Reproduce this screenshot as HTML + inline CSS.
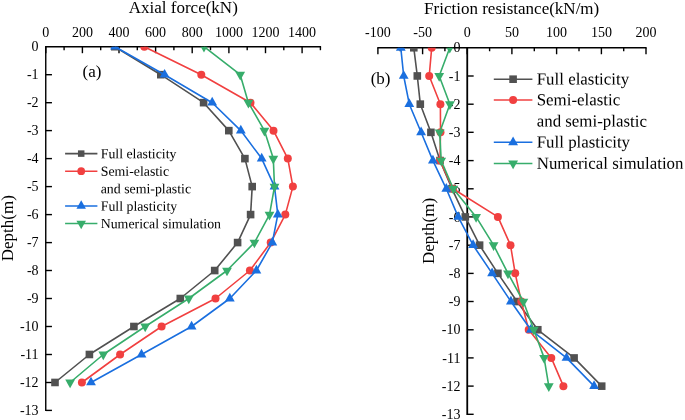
<!DOCTYPE html>
<html lang="en"><head><meta charset="utf-8"><title>Axial force and friction resistance</title>
<style>html,body{margin:0;padding:0;background:#fff}svg{display:block;will-change:transform}</style></head>
<body>
<svg width="685" height="420" viewBox="0 0 685 420" font-family="'Liberation Serif',serif" fill="#000">
<rect width="685" height="420" fill="#fff"/>
<defs>
<clipPath id="cl"><rect x="45.75" y="46.7" width="276.25" height="363.74"/></clipPath>
<clipPath id="cr"><rect x="370" y="47.75" width="290" height="366.59999999999997"/></clipPath>
</defs>
<g stroke="#000" stroke-width="1.4" fill="none" stroke-linecap="butt">
<path d="M45.75,411.1 V46.7 H321.1"/>
<line x1="45.8" y1="46.7" x2="45.8" y2="53.2"/>
<line x1="64.1" y1="46.7" x2="64.1" y2="50.2"/>
<line x1="82.4" y1="46.7" x2="82.4" y2="53.2"/>
<line x1="100.7" y1="46.7" x2="100.7" y2="50.2"/>
<line x1="119.0" y1="46.7" x2="119.0" y2="53.2"/>
<line x1="137.3" y1="46.7" x2="137.3" y2="50.2"/>
<line x1="155.6" y1="46.7" x2="155.6" y2="53.2"/>
<line x1="173.9" y1="46.7" x2="173.9" y2="50.2"/>
<line x1="192.2" y1="46.7" x2="192.2" y2="53.2"/>
<line x1="210.5" y1="46.7" x2="210.5" y2="50.2"/>
<line x1="228.9" y1="46.7" x2="228.9" y2="53.2"/>
<line x1="247.2" y1="46.7" x2="247.2" y2="50.2"/>
<line x1="265.5" y1="46.7" x2="265.5" y2="53.2"/>
<line x1="283.8" y1="46.7" x2="283.8" y2="50.2"/>
<line x1="302.1" y1="46.7" x2="302.1" y2="53.2"/>
<line x1="320.4" y1="46.7" x2="320.4" y2="50.2"/>
<line x1="45.75" y1="74.7" x2="51.95" y2="74.7"/>
<line x1="45.75" y1="102.7" x2="51.95" y2="102.7"/>
<line x1="45.75" y1="130.6" x2="51.95" y2="130.6"/>
<line x1="45.75" y1="158.6" x2="51.95" y2="158.6"/>
<line x1="45.75" y1="186.6" x2="51.95" y2="186.6"/>
<line x1="45.75" y1="214.6" x2="51.95" y2="214.6"/>
<line x1="45.75" y1="242.6" x2="51.95" y2="242.6"/>
<line x1="45.75" y1="270.5" x2="51.95" y2="270.5"/>
<line x1="45.75" y1="298.5" x2="51.95" y2="298.5"/>
<line x1="45.75" y1="326.5" x2="51.95" y2="326.5"/>
<line x1="45.75" y1="354.5" x2="51.95" y2="354.5"/>
<line x1="45.75" y1="382.5" x2="51.95" y2="382.5"/>
<line x1="45.75" y1="410.4" x2="51.95" y2="410.4"/>
</g>
<g font-size="14" text-anchor="middle">
<text x="45.8" y="36.6">0</text>
<text x="82.4" y="36.6">200</text>
<text x="119.0" y="36.6">400</text>
<text x="155.6" y="36.6">600</text>
<text x="192.2" y="36.6">800</text>
<text x="228.9" y="36.6">1000</text>
<text x="265.5" y="36.6">1200</text>
<text x="302.1" y="36.6">1400</text>
</g>
<g font-size="14" text-anchor="end">
<text x="38.6" y="51.3">0</text>
<text x="38.6" y="79.3">-1</text>
<text x="38.6" y="107.3">-2</text>
<text x="38.6" y="135.2">-3</text>
<text x="38.6" y="163.2">-4</text>
<text x="38.6" y="191.2">-5</text>
<text x="38.6" y="219.2">-6</text>
<text x="38.6" y="247.2">-7</text>
<text x="38.6" y="275.1">-8</text>
<text x="38.6" y="303.1">-9</text>
<text x="38.6" y="331.1">-10</text>
<text x="38.6" y="359.1">-11</text>
<text x="38.6" y="387.1">-12</text>
<text x="38.6" y="415.0">-13</text>
</g>
<text x="183.3" y="13.0" font-size="17" text-anchor="middle">Axial force(kN)</text>
<text transform="translate(13.0,228.2) rotate(-90)" font-size="17" text-anchor="middle">Depth(m)</text>
<text x="82.6" y="76.8" font-size="17">(a)</text>
<g clip-path="url(#cl)">
<polyline points="114.8,46.7 160.8,74.7 203.6,102.7 228.8,130.6 244.9,158.6 252.2,186.6 250.6,214.6 237.6,242.6 214.7,270.5 180.3,298.5 133.9,326.5 89.4,354.5 55.0,382.5" fill="none" stroke="#515151" stroke-width="1.6" stroke-linejoin="round"/>
<rect x="111.00" y="42.90" width="7.60" height="7.60" fill="#515151"/>
<rect x="157.00" y="70.88" width="7.60" height="7.60" fill="#515151"/>
<rect x="199.80" y="98.86" width="7.60" height="7.60" fill="#515151"/>
<rect x="225.00" y="126.84" width="7.60" height="7.60" fill="#515151"/>
<rect x="241.10" y="154.82" width="7.60" height="7.60" fill="#515151"/>
<rect x="248.40" y="182.80" width="7.60" height="7.60" fill="#515151"/>
<rect x="246.80" y="210.78" width="7.60" height="7.60" fill="#515151"/>
<rect x="233.80" y="238.76" width="7.60" height="7.60" fill="#515151"/>
<rect x="210.90" y="266.74" width="7.60" height="7.60" fill="#515151"/>
<rect x="176.50" y="294.72" width="7.60" height="7.60" fill="#515151"/>
<rect x="130.10" y="322.70" width="7.60" height="7.60" fill="#515151"/>
<rect x="85.60" y="350.68" width="7.60" height="7.60" fill="#515151"/>
<rect x="51.20" y="378.66" width="7.60" height="7.60" fill="#515151"/>
<polyline points="144.3,46.7 201.3,74.7 250.5,102.7 273.5,130.6 287.8,158.6 292.9,186.6 285.3,214.6 270.7,242.6 249.9,270.5 215.5,298.5 161.6,326.5 120.1,354.5 81.9,382.5" fill="none" stroke="#F14040" stroke-width="1.6" stroke-linejoin="round"/>
<circle cx="144.30" cy="46.70" r="4.00" fill="#F14040"/>
<circle cx="201.30" cy="74.68" r="4.00" fill="#F14040"/>
<circle cx="250.50" cy="102.66" r="4.00" fill="#F14040"/>
<circle cx="273.50" cy="130.64" r="4.00" fill="#F14040"/>
<circle cx="287.80" cy="158.62" r="4.00" fill="#F14040"/>
<circle cx="292.90" cy="186.60" r="4.00" fill="#F14040"/>
<circle cx="285.30" cy="214.58" r="4.00" fill="#F14040"/>
<circle cx="270.70" cy="242.56" r="4.00" fill="#F14040"/>
<circle cx="249.90" cy="270.54" r="4.00" fill="#F14040"/>
<circle cx="215.50" cy="298.52" r="4.00" fill="#F14040"/>
<circle cx="161.60" cy="326.50" r="4.00" fill="#F14040"/>
<circle cx="120.10" cy="354.48" r="4.00" fill="#F14040"/>
<circle cx="81.90" cy="382.46" r="4.00" fill="#F14040"/>
<polyline points="115.0,46.7 164.6,74.7 212.2,102.7 240.8,130.6 261.7,158.6 274.5,186.6 277.8,214.6 272.3,242.6 256.4,270.5 229.8,298.5 191.6,326.5 141.5,354.5 91.0,382.5" fill="none" stroke="#1A6FDF" stroke-width="1.6" stroke-linejoin="round"/>
<polygon points="110.10,49.60 119.90,49.60 115.00,40.90" fill="#1A6FDF"/>
<polygon points="159.70,77.58 169.50,77.58 164.60,68.88" fill="#1A6FDF"/>
<polygon points="207.30,105.56 217.10,105.56 212.20,96.86" fill="#1A6FDF"/>
<polygon points="235.90,133.54 245.70,133.54 240.80,124.84" fill="#1A6FDF"/>
<polygon points="256.80,161.52 266.60,161.52 261.70,152.82" fill="#1A6FDF"/>
<polygon points="269.60,189.50 279.40,189.50 274.50,180.80" fill="#1A6FDF"/>
<polygon points="272.90,217.48 282.70,217.48 277.80,208.78" fill="#1A6FDF"/>
<polygon points="267.40,245.46 277.20,245.46 272.30,236.76" fill="#1A6FDF"/>
<polygon points="251.50,273.44 261.30,273.44 256.40,264.74" fill="#1A6FDF"/>
<polygon points="224.90,301.42 234.70,301.42 229.80,292.72" fill="#1A6FDF"/>
<polygon points="186.70,329.40 196.50,329.40 191.60,320.70" fill="#1A6FDF"/>
<polygon points="136.60,357.38 146.40,357.38 141.50,348.68" fill="#1A6FDF"/>
<polygon points="86.10,385.36 95.90,385.36 91.00,376.66" fill="#1A6FDF"/>
<polyline points="204.0,46.7 240.2,74.7 248.4,102.7 264.4,130.6 273.3,158.6 274.5,186.6 269.5,214.6 254.4,242.6 227.0,270.5 188.8,298.5 145.2,326.5 103.3,354.5 70.1,382.5" fill="none" stroke="#37AD6B" stroke-width="1.6" stroke-linejoin="round"/>
<polygon points="199.10,43.80 208.90,43.80 204.00,52.50" fill="#37AD6B"/>
<polygon points="235.30,71.78 245.10,71.78 240.20,80.48" fill="#37AD6B"/>
<polygon points="243.50,99.76 253.30,99.76 248.40,108.46" fill="#37AD6B"/>
<polygon points="259.50,127.74 269.30,127.74 264.40,136.44" fill="#37AD6B"/>
<polygon points="268.40,155.72 278.20,155.72 273.30,164.42" fill="#37AD6B"/>
<polygon points="269.60,183.70 279.40,183.70 274.50,192.40" fill="#37AD6B"/>
<polygon points="264.60,211.68 274.40,211.68 269.50,220.38" fill="#37AD6B"/>
<polygon points="249.50,239.66 259.30,239.66 254.40,248.36" fill="#37AD6B"/>
<polygon points="222.10,267.64 231.90,267.64 227.00,276.34" fill="#37AD6B"/>
<polygon points="183.90,295.62 193.70,295.62 188.80,304.32" fill="#37AD6B"/>
<polygon points="140.30,323.60 150.10,323.60 145.20,332.30" fill="#37AD6B"/>
<polygon points="98.40,351.58 108.20,351.58 103.30,360.28" fill="#37AD6B"/>
<polygon points="65.20,379.56 75.00,379.56 70.10,388.26" fill="#37AD6B"/>
</g>
<line x1="65.1" y1="153.6" x2="97.4" y2="153.6" stroke="#515151" stroke-width="1.65"/>
<rect x="77.96" y="150.36" width="6.49" height="6.49" fill="#515151"/>
<text x="100.7" y="158.25" transform="rotate(0.03 160.7 158.25)" font-size="13.85">Full elasticity</text>
<line x1="65.1" y1="171.2" x2="97.4" y2="171.2" stroke="#F14040" stroke-width="1.65"/>
<circle cx="81.20" cy="171.20" r="3.88" fill="#F14040"/>
<text x="100.7" y="175.85" transform="rotate(0.03 160.7 175.85)" font-size="13.85">Semi-elastic</text>
<text x="100.7" y="193.25" transform="rotate(0.03 160.7 193.25)" font-size="13.85">and semi-plastic</text>
<line x1="65.1" y1="206.0" x2="97.4" y2="206.0" stroke="#1A6FDF" stroke-width="1.65"/>
<polygon points="76.45,208.81 85.95,208.81 81.20,200.37" fill="#1A6FDF"/>
<text x="100.7" y="210.66" transform="rotate(0.03 160.7 210.66)" font-size="13.85">Full plasticity</text>
<line x1="65.1" y1="223.5" x2="97.4" y2="223.5" stroke="#37AD6B" stroke-width="1.65"/>
<polygon points="76.45,220.69 85.95,220.69 81.20,229.13" fill="#37AD6B"/>
<text x="100.7" y="228.16" transform="rotate(0.03 160.7 228.16)" font-size="13.85">Numerical simulation</text>
<g stroke="#000" stroke-width="1.4" fill="none">
<path d="M377.3,47.75 H646.6"/>
<path d="M467.25,47.75 V415.0" stroke-width="1.8"/>
<line x1="377.9" y1="47.75" x2="377.9" y2="54.25"/>
<line x1="400.2" y1="47.75" x2="400.2" y2="51.25"/>
<line x1="422.6" y1="47.75" x2="422.6" y2="54.25"/>
<line x1="444.9" y1="47.75" x2="444.9" y2="51.25"/>
<line x1="467.2" y1="47.75" x2="467.2" y2="54.25"/>
<line x1="489.6" y1="47.75" x2="489.6" y2="51.25"/>
<line x1="511.9" y1="47.75" x2="511.9" y2="54.25"/>
<line x1="534.3" y1="47.75" x2="534.3" y2="51.25"/>
<line x1="556.6" y1="47.75" x2="556.6" y2="54.25"/>
<line x1="579.0" y1="47.75" x2="579.0" y2="51.25"/>
<line x1="601.4" y1="47.75" x2="601.4" y2="54.25"/>
<line x1="623.7" y1="47.75" x2="623.7" y2="51.25"/>
<line x1="646.0" y1="47.75" x2="646.0" y2="54.25"/>
<line x1="467.25" y1="76.0" x2="473.65" y2="76.0"/>
<line x1="467.25" y1="104.2" x2="473.65" y2="104.2"/>
<line x1="467.25" y1="132.3" x2="473.65" y2="132.3"/>
<line x1="467.25" y1="160.6" x2="473.65" y2="160.6"/>
<line x1="467.25" y1="188.8" x2="473.65" y2="188.8"/>
<line x1="467.25" y1="216.9" x2="473.65" y2="216.9"/>
<line x1="467.25" y1="245.2" x2="473.65" y2="245.2"/>
<line x1="467.25" y1="273.4" x2="473.65" y2="273.4"/>
<line x1="467.25" y1="301.5" x2="473.65" y2="301.5"/>
<line x1="467.25" y1="329.8" x2="473.65" y2="329.8"/>
<line x1="467.25" y1="357.9" x2="473.65" y2="357.9"/>
<line x1="467.25" y1="386.1" x2="473.65" y2="386.1"/>
<line x1="467.25" y1="414.3" x2="473.65" y2="414.3"/>
</g>
<g font-size="14" text-anchor="middle">
<text x="377.9" y="37.3">-100</text>
<text x="422.6" y="37.3">-50</text>
<text x="467.2" y="37.3">0</text>
<text x="511.9" y="37.3">50</text>
<text x="556.6" y="37.3">100</text>
<text x="601.4" y="37.3">150</text>
<text x="646.0" y="37.3">200</text>
</g>
<g font-size="14" text-anchor="end">
<text x="460.4" y="52.1">0</text>
<text x="460.4" y="80.5">-1</text>
<text x="460.4" y="108.8">-2</text>
<text x="460.4" y="136.9">-3</text>
<text x="460.4" y="165.2">-4</text>
<text x="460.4" y="193.3">-5</text>
<text x="460.4" y="221.5">-6</text>
<text x="460.4" y="249.8">-7</text>
<text x="460.4" y="278.0">-8</text>
<text x="460.4" y="306.1">-9</text>
<text x="460.4" y="334.4">-10</text>
<text x="460.4" y="362.6">-11</text>
<text x="460.4" y="390.8">-12</text>
<text x="460.4" y="418.9">-13</text>
</g>
<text x="511.7" y="14.3" font-size="17" text-anchor="middle">Friction resistance(kN/m)</text>
<text transform="translate(434.2,231.0) rotate(-90)" font-size="17" text-anchor="middle">Depth(m)</text>
<text x="370.7" y="84.3" font-size="17">(b)</text>
<g clip-path="url(#cr)">
<polyline points="413.8,47.8 417.3,76.0 420.3,104.2 430.9,132.3 440.0,160.6 452.0,188.8 465.3,216.9 479.6,245.2 497.9,273.4 517.0,301.5 537.8,329.8 574.1,357.9 601.7,386.1" fill="none" stroke="#515151" stroke-width="1.6" stroke-linejoin="round"/>
<rect x="410.00" y="43.95" width="7.60" height="7.60" fill="#515151"/>
<rect x="413.50" y="72.15" width="7.60" height="7.60" fill="#515151"/>
<rect x="416.50" y="100.35" width="7.60" height="7.60" fill="#515151"/>
<rect x="427.10" y="128.55" width="7.60" height="7.60" fill="#515151"/>
<rect x="436.20" y="156.75" width="7.60" height="7.60" fill="#515151"/>
<rect x="448.20" y="184.95" width="7.60" height="7.60" fill="#515151"/>
<rect x="461.50" y="213.15" width="7.60" height="7.60" fill="#515151"/>
<rect x="475.80" y="241.35" width="7.60" height="7.60" fill="#515151"/>
<rect x="494.10" y="269.55" width="7.60" height="7.60" fill="#515151"/>
<rect x="513.20" y="297.75" width="7.60" height="7.60" fill="#515151"/>
<rect x="534.00" y="325.95" width="7.60" height="7.60" fill="#515151"/>
<rect x="570.30" y="354.15" width="7.60" height="7.60" fill="#515151"/>
<rect x="597.90" y="382.35" width="7.60" height="7.60" fill="#515151"/>
<polyline points="431.7,47.8 429.2,76.0 440.4,104.2 440.5,132.3 440.0,160.6 453.0,188.8 497.9,216.9 510.5,245.2 515.2,273.4 521.3,301.5 528.7,329.8 551.3,357.9 563.4,386.1" fill="none" stroke="#F14040" stroke-width="1.6" stroke-linejoin="round"/>
<circle cx="431.70" cy="47.75" r="4.00" fill="#F14040"/>
<circle cx="429.20" cy="75.95" r="4.00" fill="#F14040"/>
<circle cx="440.40" cy="104.15" r="4.00" fill="#F14040"/>
<circle cx="440.50" cy="132.35" r="4.00" fill="#F14040"/>
<circle cx="440.00" cy="160.55" r="4.00" fill="#F14040"/>
<circle cx="453.00" cy="188.75" r="4.00" fill="#F14040"/>
<circle cx="497.90" cy="216.95" r="4.00" fill="#F14040"/>
<circle cx="510.50" cy="245.15" r="4.00" fill="#F14040"/>
<circle cx="515.20" cy="273.35" r="4.00" fill="#F14040"/>
<circle cx="521.30" cy="301.55" r="4.00" fill="#F14040"/>
<circle cx="528.70" cy="329.75" r="4.00" fill="#F14040"/>
<circle cx="551.30" cy="357.95" r="4.00" fill="#F14040"/>
<circle cx="563.40" cy="386.15" r="4.00" fill="#F14040"/>
<polyline points="400.8,47.8 403.7,76.0 409.3,104.2 421.1,132.3 432.9,160.6 446.3,188.8 458.2,216.9 473.1,245.2 492.1,273.4 510.9,301.5 530.8,329.8 566.5,357.9 594.1,386.1" fill="none" stroke="#1A6FDF" stroke-width="1.6" stroke-linejoin="round"/>
<polygon points="395.90,50.65 405.70,50.65 400.80,41.95" fill="#1A6FDF"/>
<polygon points="398.80,78.85 408.60,78.85 403.70,70.15" fill="#1A6FDF"/>
<polygon points="404.40,107.05 414.20,107.05 409.30,98.35" fill="#1A6FDF"/>
<polygon points="416.20,135.25 426.00,135.25 421.10,126.55" fill="#1A6FDF"/>
<polygon points="428.00,163.45 437.80,163.45 432.90,154.75" fill="#1A6FDF"/>
<polygon points="441.40,191.65 451.20,191.65 446.30,182.95" fill="#1A6FDF"/>
<polygon points="453.30,219.85 463.10,219.85 458.20,211.15" fill="#1A6FDF"/>
<polygon points="468.20,248.05 478.00,248.05 473.10,239.35" fill="#1A6FDF"/>
<polygon points="487.20,276.25 497.00,276.25 492.10,267.55" fill="#1A6FDF"/>
<polygon points="506.00,304.45 515.80,304.45 510.90,295.75" fill="#1A6FDF"/>
<polygon points="525.90,332.65 535.70,332.65 530.80,323.95" fill="#1A6FDF"/>
<polygon points="561.60,360.85 571.40,360.85 566.50,352.15" fill="#1A6FDF"/>
<polygon points="589.20,389.05 599.00,389.05 594.10,380.35" fill="#1A6FDF"/>
<polyline points="449.8,47.8 439.2,76.0 449.9,104.2 439.7,132.3 441.2,160.6 453.3,188.8 476.1,216.9 493.6,245.2 508.0,273.4 523.4,301.5 533.8,329.8 544.1,357.9 548.8,386.1" fill="none" stroke="#37AD6B" stroke-width="1.6" stroke-linejoin="round"/>
<polygon points="444.90,44.85 454.70,44.85 449.80,53.55" fill="#37AD6B"/>
<polygon points="434.30,73.05 444.10,73.05 439.20,81.75" fill="#37AD6B"/>
<polygon points="445.00,101.25 454.80,101.25 449.90,109.95" fill="#37AD6B"/>
<polygon points="434.80,129.45 444.60,129.45 439.70,138.15" fill="#37AD6B"/>
<polygon points="436.30,157.65 446.10,157.65 441.20,166.35" fill="#37AD6B"/>
<polygon points="448.40,185.85 458.20,185.85 453.30,194.55" fill="#37AD6B"/>
<polygon points="471.20,214.05 481.00,214.05 476.10,222.75" fill="#37AD6B"/>
<polygon points="488.70,242.25 498.50,242.25 493.60,250.95" fill="#37AD6B"/>
<polygon points="503.10,270.45 512.90,270.45 508.00,279.15" fill="#37AD6B"/>
<polygon points="518.50,298.65 528.30,298.65 523.40,307.35" fill="#37AD6B"/>
<polygon points="528.90,326.85 538.70,326.85 533.80,335.55" fill="#37AD6B"/>
<polygon points="539.20,355.05 549.00,355.05 544.10,363.75" fill="#37AD6B"/>
<polygon points="543.90,383.25 553.70,383.25 548.80,391.95" fill="#37AD6B"/>
</g>
<line x1="493.8" y1="79.2" x2="532.4" y2="79.2" stroke="#515151" stroke-width="1.55"/>
<rect x="509.30" y="75.40" width="7.60" height="7.60" fill="#515151"/>
<text x="536.7" y="84.52" transform="rotate(0.03 596.7 84.52)" font-size="16.9">Full elasticity</text>
<line x1="493.8" y1="100.0" x2="532.4" y2="100.0" stroke="#F14040" stroke-width="1.55"/>
<circle cx="513.10" cy="100.00" r="4.00" fill="#F14040"/>
<text x="536.7" y="105.32" transform="rotate(0.03 596.7 105.32)" font-size="16.9">Semi-elastic</text>
<text x="536.7" y="126.62" transform="rotate(0.03 596.7 126.62)" font-size="16.9">and semi-plastic</text>
<line x1="493.8" y1="142.3" x2="532.4" y2="142.3" stroke="#1A6FDF" stroke-width="1.55"/>
<polygon points="508.20,145.20 518.00,145.20 513.10,136.50" fill="#1A6FDF"/>
<text x="536.7" y="147.62" transform="rotate(0.03 596.7 147.62)" font-size="16.9">Full plasticity</text>
<line x1="493.8" y1="163.4" x2="532.4" y2="163.4" stroke="#37AD6B" stroke-width="1.55"/>
<polygon points="508.20,160.50 518.00,160.50 513.10,169.20" fill="#37AD6B"/>
<text x="536.7" y="168.72" transform="rotate(0.03 596.7 168.72)" font-size="16.9">Numerical simulation</text>
</svg>
</body></html>
